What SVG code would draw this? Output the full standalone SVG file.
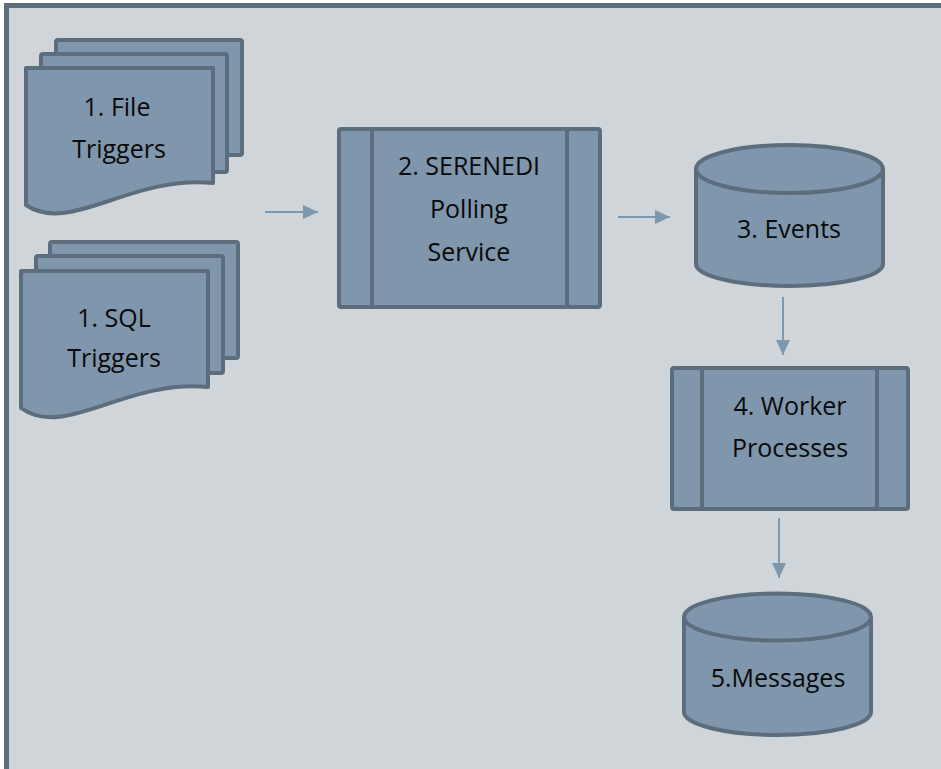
<svg xmlns="http://www.w3.org/2000/svg" width="941" height="769" viewBox="0 0 941 769">
<defs>
<style>
.shape{fill:#7f96ac;stroke:#5c6e7e;stroke-width:4;stroke-linejoin:round}
.bar{fill:none;stroke:#5c6e7e;stroke-width:4}
.lbl{font-family:"Open Sans","Liberation Sans",sans-serif;font-size:25px;fill:#0a0a0a;text-anchor:middle}
.conn{stroke:#7d97ad;stroke-width:2;fill:none}
</style>
<marker id="ah" markerUnits="userSpaceOnUse" markerWidth="16" markerHeight="15" refX="15" refY="7" orient="auto">
<path d="M0,0 L15,7 L0,14 z" fill="#7d97ad"/>
</marker>
</defs>
<rect x="0" y="0" width="941" height="769" fill="#ffffff"/>
<rect x="6.5" y="5.5" width="940" height="770" fill="#d0d5d9" stroke="#5c6e7e" stroke-width="5"/>

<g id="file-triggers">
<rect class="shape" x="56" y="40" width="186" height="115" rx="2"/>
<rect class="shape" x="41" y="54" width="186" height="118" rx="2"/>
<path class="shape" d="M26,68 H213 V183 C130,175 70,235 26,205 Z"/>
<text class="lbl" x="117" y="116">1. File</text>
<text class="lbl" x="119" y="158">Triggers</text>
</g>

<g id="sql-triggers">
<rect class="shape" x="50" y="242" width="188" height="116" rx="2"/>
<rect class="shape" x="36" y="256" width="187" height="117" rx="2"/>
<path class="shape" d="M21,271 H208 V387 C125,379 65,440 21,408 Z"/>
<text class="lbl" x="114" y="327">1. SQL</text>
<text class="lbl" x="114" y="367">Triggers</text>
</g>

<g id="polling-service">
<rect class="shape" x="339" y="129" width="261" height="178" rx="2"/>
<line class="bar" x1="372" y1="129" x2="372" y2="307"/>
<line class="bar" x1="567" y1="129" x2="567" y2="307"/>
<text class="lbl" x="469" y="175">2. SERENEDI</text>
<text class="lbl" x="469" y="218">Polling</text>
<text class="lbl" x="469" y="261">Service</text>
</g>

<g id="events">
<path class="shape" d="M696,169 A93.5,24 0 0 1 883,169 V264 A93.5,22 0 0 1 696,264 Z"/>
<path class="bar" d="M696,169 A93.5,24 0 0 0 883,169"/>
<text class="lbl" x="789" y="238">3. Events</text>
</g>

<g id="worker-processes">
<rect class="shape" x="672" y="368" width="236" height="141" rx="2"/>
<line class="bar" x1="702" y1="368" x2="702" y2="509"/>
<line class="bar" x1="877" y1="368" x2="877" y2="509"/>
<text class="lbl" x="790" y="415">4. Worker</text>
<text class="lbl" x="790" y="457">Processes</text>
</g>

<g id="messages">
<path class="shape" d="M684,617 A93.5,23.5 0 0 1 871,617 V712 A93.5,23 0 0 1 684,712 Z"/>
<path class="bar" d="M684,617 A93.5,23.5 0 0 0 871,617"/>
<text class="lbl" x="778" y="687">5.Messages</text>
</g>

<g id="connectors">
<line class="conn" x1="265" y1="212" x2="318" y2="212" marker-end="url(#ah)"/>
<line class="conn" x1="618" y1="217" x2="670" y2="217" marker-end="url(#ah)"/>
<line class="conn" x1="783" y1="297" x2="783" y2="355" marker-end="url(#ah)"/>
<line class="conn" x1="779" y1="518" x2="779" y2="578" marker-end="url(#ah)"/>
</g>
</svg>
